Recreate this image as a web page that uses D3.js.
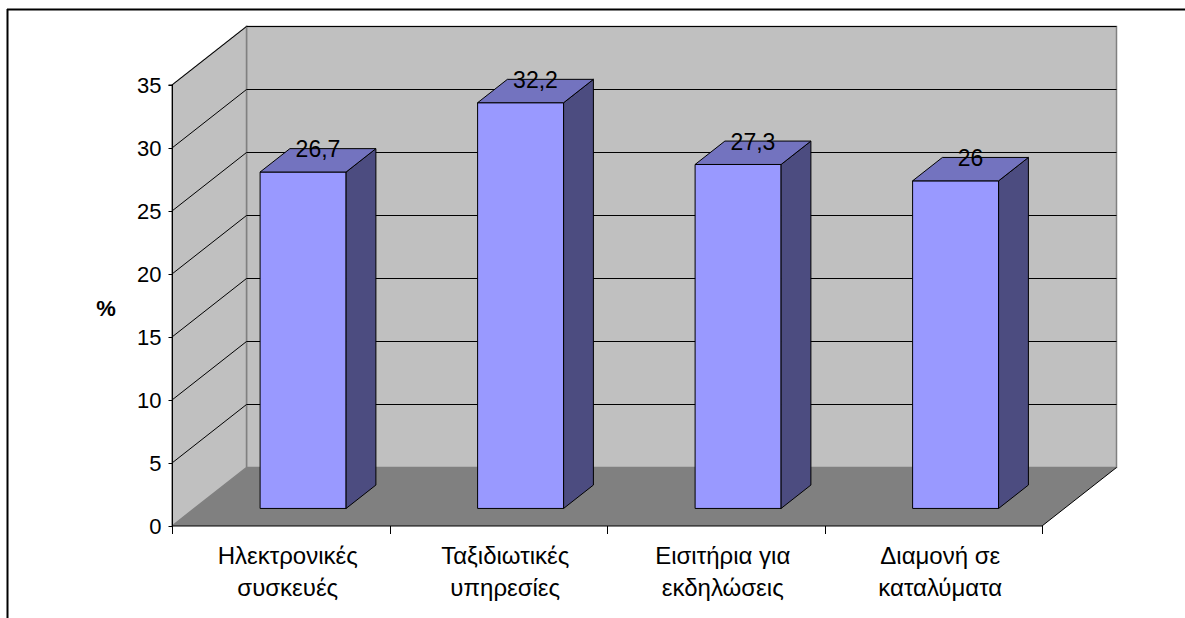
<!DOCTYPE html>
<html>
<head>
<meta charset="utf-8">
<script src="https://cdn.jsdelivr.net/npm/d3@7/dist/d3.min.js"></script>
<style>
  html, body { margin: 0; padding: 0; background: #ffffff; }
  svg { display: block; }
  text { font-family: "Liberation Sans", Arial, sans-serif; }
</style>
</head>
<body>
<svg id="chart" width="1185" height="618"></svg>
<script>
// Data
const categories = [
  ["Ηλεκτρονικές", "συσκευές"],
  ["Ταξιδιωτικές", "υπηρεσίες"],
  ["Εισιτήρια για", "εκδηλώσεις"],
  ["Διαμονή σε", "καταλύματα"]
];
const values = [26.7, 32.2, 27.3, 26];
const valueLabels = ["26,7", "32,2", "27,3", "26"];
const yTicks = [0, 5, 10, 15, 20, 25, 30, 35];
const yAxisTitle = "%";

const FS = 23;
const svg = d3.select("#chart");

// Frame lines
svg.append("line").attr("x1", 7).attr("y1", 9.5).attr("x2", 1185).attr("y2", 9.5)
  .attr("stroke", "#000").attr("stroke-width", 2);
svg.append("line").attr("x1", 7.5).attr("y1", 9).attr("x2", 7.5).attr("y2", 618)
  .attr("stroke", "#000").attr("stroke-width", 2);

// Plot geometry: front plane and oblique depth offset
const left = 172, right = 1042;
const depthX = 74.5, depthY = 58.5;
const y = d3.scaleLinear().domain([0, 35]).range([526, 85]);
const x = d3.scaleBand().domain(d3.range(categories.length)).range([left, right]);

// project a front-plane point back by depth fraction d
const P = (px, py, d) => [px + d * depthX, py - d * depthY];
const poly = pts => "M" + pts.map(p => p.join(",")).join("L") + "Z";

const g = svg.append("g");

// Back wall
g.append("path")
  .attr("d", poly([P(left, y(35), 1), P(right, y(35), 1), P(right, y(0), 1), P(left, y(0), 1)]))
  .attr("fill", "#c0c0c0").attr("stroke", "#808080").attr("stroke-width", 1.5);
// Side wall
g.append("path")
  .attr("d", poly([P(left, y(35), 0), P(left, y(35), 1), P(left, y(0), 1), P(left, y(0), 0)]))
  .attr("fill", "#c0c0c0").attr("stroke", "#808080").attr("stroke-width", 1.5);
// Floor
g.append("path")
  .attr("d", poly([P(left, y(0), 0), P(left, y(0), 1), P(right, y(0), 1), P(right, y(0), 0)]))
  .attr("fill", "#808080").attr("stroke", "none");
g.append("path")
  .attr("d", "M" + P(left, y(0), 0).join(",") + "L" + P(right, y(0), 0).join(",") + "L" + P(right, y(0), 1).join(","))
  .attr("fill", "none").attr("stroke", "#000").attr("stroke-width", 1);

// Gridlines on side wall and back wall
yTicks.filter(t => t > 0).forEach(t => {
  const a = P(left, y(t), 0), b = P(left, y(t), 1), c = P(right, y(t), 1);
  g.append("path")
    .attr("d", "M" + a.join(",") + "L" + b.join(",") + "L" + c.join(","))
    .attr("fill", "none").attr("stroke", "#000").attr("stroke-width", 1);
});

// Y axis
const yAxis = d3.axisLeft(y).tickValues(yTicks).tickSize(4).tickPadding(7).tickFormat(d3.format("d"));
const ya = svg.append("g").attr("transform", `translate(${left + 0.5},0)`).call(yAxis);
ya.select(".domain").attr("stroke", "#000").attr("d", `M-4,${y(35)}H0V${y(0)}`);
ya.selectAll(".tick line").attr("stroke", "#000");
ya.selectAll(".tick text").attr("font-size", 22).attr("fill", "#000")
  .attr("font-family", "'Liberation Sans', Arial, sans-serif");

// X axis ticks below the floor front edge
const xEdges = d3.range(categories.length + 1).map(i => left + i * x.bandwidth());
svg.append("g").selectAll("line").data(xEdges).join("line")
  .attr("x1", d => Math.round(d) + 0.5).attr("x2", d => Math.round(d) + 0.5)
  .attr("y1", y(0)).attr("y2", y(0) + 8)
  .attr("stroke", "#000");

// Bars
const d1 = 0.3, d2 = 0.7;
const barHalf = 43;
const bars = svg.append("g");
values.forEach((v, i) => {
  const cx = x(i) + x.bandwidth() / 2;
  const xl = cx - barHalf, xr = cx + barHalf;
  const yt = y(v), yb = y(0);
  // front face
  bars.append("path")
    .attr("d", poly([P(xl, yt, d1), P(xr, yt, d1), P(xr, yb, d1), P(xl, yb, d1)]))
    .attr("fill", "#9999ff").attr("stroke", "#000").attr("stroke-width", 1);
  // side face
  bars.append("path")
    .attr("d", poly([P(xr, yt, d1), P(xr, yt, d2), P(xr, yb, d2), P(xr, yb, d1)]))
    .attr("fill", "#4c4c80").attr("stroke", "#000").attr("stroke-width", 1);
  // top face
  bars.append("path")
    .attr("d", poly([P(xl, yt, d1), P(xl, yt, d2), P(xr, yt, d2), P(xr, yt, d1)]))
    .attr("fill", "#7373bf").attr("stroke", "#000").attr("stroke-width", 1);
  // value label on the top face
  const lc = P(cx, yt, (d1 + d2) / 2);
  bars.append("text")
    .attr("x", lc[0]).attr("y", lc[1] - 3)
    .attr("text-anchor", "middle").attr("font-size", FS).attr("fill", "#000")
    .text(valueLabels[i]);
});

// Category labels
const cl = svg.append("g");
categories.forEach((lines, i) => {
  const cx = x(i) + x.bandwidth() / 2 + 7;
  const t = cl.append("text").attr("text-anchor", "middle").attr("font-size", 24).attr("fill", "#000");
  lines.forEach((s, j) => {
    t.append("tspan").attr("x", cx).attr("y", 564 + j * 32).text(s);
  });
});

// Axis title
svg.append("text").attr("x", 106).attr("y", 316).attr("text-anchor", "middle")
  .attr("font-size", 22).attr("font-weight", "bold").attr("fill", "#000").text(yAxisTitle);
</script>
</body>
</html>
